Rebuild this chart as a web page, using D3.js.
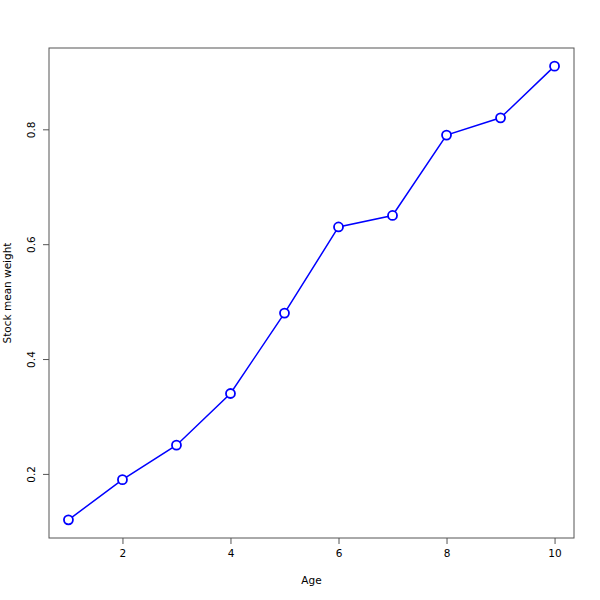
<!DOCTYPE html>
<html><head><meta charset="utf-8">
<script src="https://cdn.jsdelivr.net/npm/d3@7"></script>
<style>body{margin:0;background:#fff}svg{display:block}text{font-family:"DejaVu Sans",sans-serif;font-size:10.5px;fill:#000}</style>
</head><body><svg id="c" width="600" height="600"></svg>
<script>
const ages = [1,2,3,4,5,6,7,8,9,10];
const weights = [0.12,0.19,0.25,0.34,0.48,0.63,0.65,0.79,0.82,0.91];
const xTicks = [2,4,6,8,10];
const yTicks = [0.2,0.4,0.6,0.8];
const xLabel = "Age";
const yLabel = "Stock mean weight";

const svg = d3.select("#c");
const L=49, R=574, T=48, B=538;
const x = d3.scaleLinear().domain([0.64,10.36]).range([L,R]);
const y = d3.scaleLinear().domain([0.0884,0.9416]).range([B,T]);

svg.append("rect").attr("x",L).attr("y",T).attr("width",R-L).attr("height",B-T)
  .attr("fill","none").attr("stroke","#555").attr("stroke-width",1);

const xa = svg.append("g").attr("transform",`translate(0,${B})`)
  .call(d3.axisBottom(x).tickValues(xTicks).tickSize(6).tickPadding(6).tickFormat(d3.format("d")));
xa.select(".domain").remove();
xa.selectAll("line").attr("stroke","#555");

const ya = svg.append("g").attr("transform",`translate(${L},0)`)
  .call(d3.axisLeft(y).tickValues(yTicks).tickSize(6).tickFormat(d3.format(".1f")));
ya.select(".domain").remove();
ya.selectAll("line").attr("stroke","#555");
ya.selectAll("text").attr("transform",d=>`rotate(-90,-20,${y(d)})`)
  .attr("x",-20).attr("y",y=>0).attr("dy","0.32em").attr("text-anchor","middle")
  .each(function(d){d3.select(this).attr("x",-20).attr("y",null);});
ya.selectAll(".tick").each(function(d){
  const t=d3.select(this).select("text");
  t.attr("transform","rotate(-90)").attr("x",0).attr("y",-14).attr("dy","0").attr("text-anchor","middle");
});
svg.selectAll("text").style("font-family","DejaVu Sans, sans-serif").style("font-size","10.5px");

svg.append("text").attr("x",(L+R)/2).attr("y",584).attr("text-anchor","middle").text(xLabel);
svg.append("text").attr("transform",`translate(11,${(T+B)/2}) rotate(-90)`).attr("text-anchor","middle").text(yLabel);

const line = d3.line().x((d,i)=>x(ages[i])).y(d=>y(d));
svg.append("path").datum(weights).attr("d",line).attr("fill","none").attr("stroke","#0000ff").attr("stroke-width",1.5);
svg.selectAll("circle.p").data(weights).enter().append("circle")
  .attr("cx",(d,i)=>x(ages[i])).attr("cy",d=>y(d)).attr("r",4.5)
  .attr("fill","#fff").attr("stroke","#0000ff").attr("stroke-width",1.8);
</script></body></html>
